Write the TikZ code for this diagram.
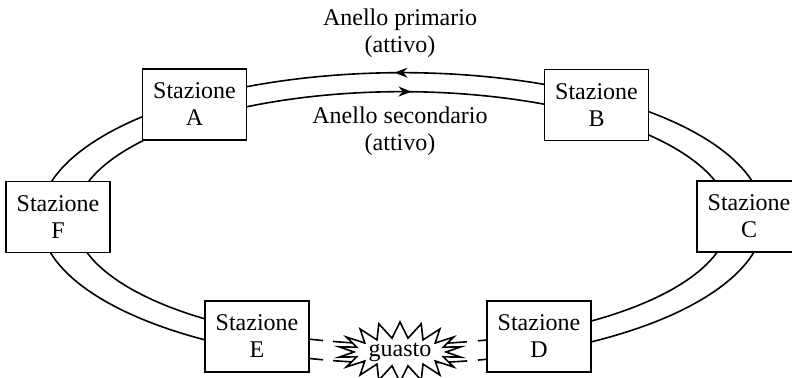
\documentclass[tikz,border=0pt]{standalone}
\usepackage{fontspec}
\setmainfont{Liberation Serif}
\usetikzlibrary{arrows.meta,decorations.markings,shapes.symbols}
\begin{document}
\begin{tikzpicture}[x=0.5pt,y=-0.5pt, line width=0.8pt,
  txt/.style={font=\fontsize{12}{13.5}\selectfont, align=center},
  station/.style={txt, draw, fill=white, minimum width=52pt, minimum height=35.5pt, inner sep=1pt},
  ringarrow/.style={postaction={decorate}, decoration={markings, mark=at position #1 with {\arrow{Stealth[length=6.5pt,width=5pt]}}}},
  burst/.style={txt, draw, fill=white, starburst, starburst points=18, starburst point height=8pt, random starburst=0, minimum width=62pt, minimum height=30pt, inner sep=0pt}]
\useasboundingbox (0,0) rectangle (792,378);
\coordinate (O) at (402,218);
% outer ring (primario)
\draw[ringarrow=0.506] ([shift={(77.88:362 and 145.3)}]O) arc[start angle=77.88, end angle=-257.4, x radius=362, y radius=145.3];
\draw ([shift={(100.99:362 and 145.3)}]O) arc[start angle=100.99, end angle=79.65, x radius=362, y radius=145.3];
% inner ring (secondario)
\draw[ringarrow=0.506] ([shift={(-256.04:327.4 and 126.3)}]O) arc[start angle=-256.04, end angle=76.58, x radius=327.4, y radius=126.3];
\draw ([shift={(102.17:327.4 and 126.3)}]O) arc[start angle=102.17, end angle=78.55, x radius=327.4, y radius=126.3];
% stations
\node[station] (A) at (194.5,104.5) {Stazione\\A};
\node[station] (B) at (596.5,105) {Stazione\\B};
\node[station] (C) at (749,216.5) {Stazione\\C};
\node[station] (D) at (539,336.5) {Stazione\\D};
\node[station] (E) at (257,336.5) {Stazione\\E};
\node[station] (F) at (58,217) {Stazione\\F};
% fault
\node[burst] (guasto) at (400,352) {guasto};
% labels
\node[txt] (prim) at (400,33.5) {Anello primario\\(attivo)};
\node[txt] (sec) at (400,131) {Anello secondario\\(attivo)};
\end{tikzpicture}
\end{document}
